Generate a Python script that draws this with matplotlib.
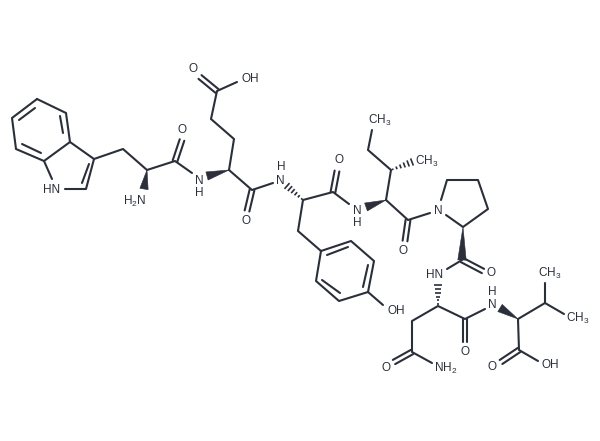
import numpy as np
import matplotlib
matplotlib.use('Agg')
from matplotlib import pyplot as plt
from matplotlib.patches import Polygon

plt.rcParams['font.family'] = ['Liberation Sans', 'DejaVu Sans']
plt.rcParams['mathtext.default'] = 'regular'

INK = '#2a2f3a'

# plain bonds, as connected paths (x, y in picture pixels)
chains = [
    [(37, 99), (66, 113), (70, 142), (44, 161), (16, 149), (12, 118), (37, 99)],
    [(70, 142), (94, 159), (86, 189), (65, 189)],
    [(44, 161), (52, 179)],
    [(94, 159), (123, 149), (147, 170), (175, 161), (192, 173)],
    [(229, 170), (252, 190), (273, 183)],
    [(229, 170), (234, 139), (211, 119), (217, 91), (237, 82)],
    [(303, 200), (333, 192), (349, 204)],
    [(386, 200), (391, 170), (368, 150), (372, 130)],
    [(386, 200), (408, 220), (430, 213)],
    [(441, 200), (447, 180), (478, 180), (488, 209), (463, 227), (446, 215)],
    [(462, 260), (447, 269)],
    [(303, 200), (298, 231), (321, 251), (351, 241), (374, 261), (368, 292), (339, 301), (316, 281), (321, 251)],
    [(368, 292), (383, 305)],
    [(432, 363), (412, 352), (412, 321), (438, 306), (465, 319), (485, 309)],
    [(518, 319), (545, 303), (564, 314)],
    [(545, 303), (545, 283)],
    [(518, 319), (519, 350), (538, 361)],
]

# inner strokes of ring double bonds
ring_inner = [
    ((19, 120), (35, 108)),
    ((60, 116), (63, 133)),
    ((22, 144), (41, 153)),
    ((89, 164), (82, 183)),
    ((327, 255), (348, 247)),
    ((368, 265), (363, 287)),
    ((322, 280), (340, 293)),
]

# C=O bonds, drawn as two parallel strokes
carbonyls = [
    ((175, 161), (182, 140)),
    ((217, 91), (200, 77)),
    ((252, 190), (247, 211)),
    ((333, 192), (337, 171)),
    ((408, 220), (405, 241)),
    ((462, 260), (483, 271)),
    ((412, 352), (394, 362)),
    ((465, 319), (465, 342)),
    ((519, 350), (501, 362)),
]

# solid wedges: tip, wide end
wedges = [
    ((147, 170), (144, 189)),
    ((229, 170), (207, 176)),
    ((386, 200), (366, 207)),
    ((463, 227), (462, 260)),
    ((518, 319), (500, 308)),
]

# hashed wedges: tip, wide end
hashes = [
    ((303, 200), (287, 186)),
    ((391, 170), (412, 162)),
    ((438, 306), (438, 285)),
]

labels = ['O', 'OH', 'O', 'HN', 'H$_2$N', 'N', 'H', 'O', 'N', 'H', 'O', 'N', 'H',
          'CH$_3$', 'CH$_3$', 'O', 'N', 'O', 'HN', 'OH', 'N', 'H', 'O', 'CH$_3$',
          'CH$_3$', 'O', 'NH$_2$', 'O', 'OH']
label_x = [193, 250, 182, 52, 135, 199, 199, 246, 280, 281, 339, 357, 357,
           380, 427, 403, 438, 491, 435, 396, 492, 492, 465, 550,
           578, 386, 446, 492, 550]
label_y = [69, 79, 130, 190, 201, 181, 193, 221, 181, 167, 160, 211, 223,
           120, 161, 251, 211, 273, 275, 311, 305, 292, 352, 273,
           318, 368, 368, 367, 365]

fig = plt.figure(figsize=(6, 4.41), dpi=100)
ax = fig.add_axes([0, 0, 1, 1])
ax.set_xlim(0, 600)
ax.set_ylim(441, 0)
ax.axis('off')

lw = 1.5

for path in chains:
    xs, ys = zip(*path)
    ax.plot(xs, ys, color=INK, lw=lw, solid_capstyle='round', solid_joinstyle='round')

for p, q in ring_inner:
    ax.plot([p[0], q[0]], [p[1], q[1]], color=INK, lw=lw, solid_capstyle='round')

for p, q in carbonyls:
    p, q = np.array(p, float), np.array(q, float)
    d = q - p
    n = np.array([-d[1], d[0]]) / np.hypot(*d) * 2.4
    for s in (-1, 1):
        ax.plot([p[0] + s * n[0], q[0] + s * n[0]], [p[1] + s * n[1], q[1] + s * n[1]],
                color=INK, lw=lw, solid_capstyle='round')

for p, q in wedges:
    p, q = np.array(p, float), np.array(q, float)
    d = q - p
    n = np.array([-d[1], d[0]]) / np.hypot(*d) * 4.2
    ax.add_patch(Polygon([p, q + n, q - n], closed=True, color=INK, lw=0.4))

for p, q in hashes:
    p, q = np.array(p, float), np.array(q, float)
    d = q - p
    n = np.array([-d[1], d[0]]) / np.hypot(*d)
    for t in np.linspace(0.08, 1, 6):
        c = p + d * t
        w = 0.6 + 3.2 * t
        ax.plot([c[0] - n[0] * w, c[0] + n[0] * w], [c[1] - n[1] * w, c[1] + n[1] * w],
                color=INK, lw=1.2, solid_capstyle='butt')

for text, x, y in zip(labels, label_x, label_y):
    ax.text(x, y, text, color=INK, fontsize=8.5, ha='center', va='center')

fig.savefig('out.png', dpi=100)
